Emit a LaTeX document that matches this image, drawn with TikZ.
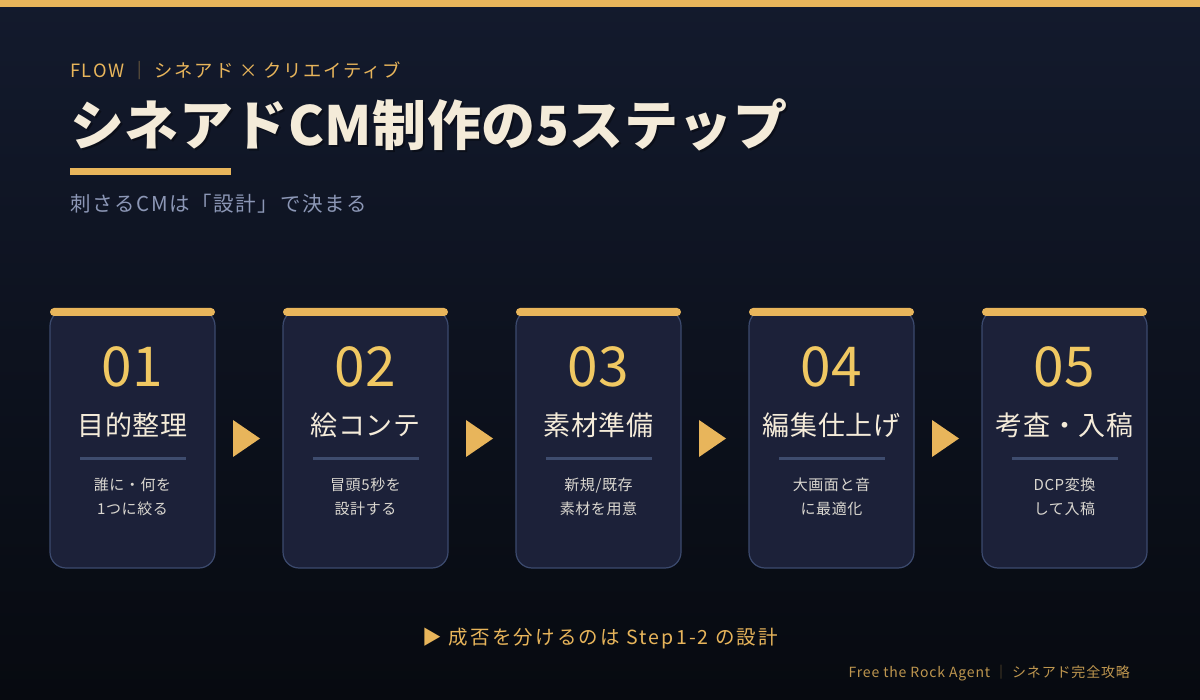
\documentclass[tikz,border=0pt]{standalone}
\usepackage{fontspec}
\setmainfont{Noto Sans CJK JP}
\definecolor{gold}{HTML}{E8B55B}
\definecolor{numgold}{HTML}{F0C862}
\definecolor{cream}{HTML}{F4EBD9}
\definecolor{cardfill}{HTML}{1C2139}
\definecolor{cardline}{HTML}{3C4A6E}
\definecolor{divider}{HTML}{3E4C6E}
\definecolor{desctext}{HTML}{DAD7D0}
\definecolor{subtext}{HTML}{8C97B6}
\definecolor{footgold}{HTML}{BE964F}
\definecolor{bgtop}{HTML}{131A2D}
\definecolor{bgbottom}{HTML}{070A10}

\begin{document}
\begin{tikzpicture}[
    x=1pt, y=-1pt,
    every node/.style={inner sep=0pt, outer sep=0pt},
    card/.style={draw=cardline, line width=1.2pt, fill=cardfill, rounded corners=16pt,
                 minimum width=165pt, minimum height=258pt},
    topbar/.style={fill=gold, rounded corners=4pt, minimum width=165pt, minimum height=8pt},
    num/.style={text=numgold, font=\fontsize{55}{55}\selectfont},
    steptitle/.style={text=cream, font=\fontsize{27}{27}\selectfont\addfontfeatures{LetterSpace=2}},
    rulebar/.style={fill=divider, minimum width=106pt, minimum height=3pt},
    desc/.style={text=desctext, align=center,
                 font=\fontsize{15}{24}\selectfont\addfontfeatures{LetterSpace=4}},
    nexttip/.style={fill=gold},
]
  % background
  \shade[top color=bgtop, bottom color=bgbottom] (0,0) rectangle (1200,700);
  \fill[gold] (0,0) rectangle (1200,7);

  % header
  \node [anchor=west, text=gold, font=\fontsize{18.3}{18.3}\selectfont\addfontfeatures{LetterSpace=10}]
        (kicker) at (70,71) {FLOW \textcolor{gold!55!bgtop}{｜} シネアド × クリエイティブ};
  \node [anchor=west, text=black, opacity=0.35, font=\fontsize{54}{54}\selectfont\bfseries\addfontfeatures{LetterSpace=1}]
        (titleshadow) at (72,127) {シネアドCM制作の5ステップ};
  \node [anchor=west, text=cream, font=\fontsize{54}{54}\selectfont\bfseries\addfontfeatures{LetterSpace=1}]
        (title) at (70,125) {シネアドCM制作の5ステップ};
  \node [anchor=north west, fill=gold, minimum width=161pt, minimum height=7pt]
        (uline) at (70,168) {};
  \node [anchor=west, text=subtext, font=\fontsize{20.5}{20.5}\selectfont\addfontfeatures{LetterSpace=8}]
        (subtitle) at (70,204) {刺さるCMは「設計」で決まる};

  % step 1
  \node [card]      (c1) at (132.5,439) {};
  \node [topbar]    (b1) at (132.5,312) {};
  \node [num]       (n1) at (132.5,367) {01};
  \node [steptitle] (t1) at (132.5,425) {目的整理};
  \node [rulebar]   (r1) at (132.5,459) {};
  \node [desc]      (d1) at (132.5,497) {誰に・何を\\1つに絞る};

  % step 2
  \node [card]      (c2) at (365.5,439) {};
  \node [topbar]    (b2) at (365.5,312) {};
  \node [num]       (n2) at (365.5,367) {02};
  \node [steptitle] (t2) at (365.5,425) {絵コンテ};
  \node [rulebar]   (r2) at (365.5,459) {};
  \node [desc]      (d2) at (365.5,497) {冒頭5秒を\\設計する};

  % step 3
  \node [card]      (c3) at (598.5,439) {};
  \node [topbar]    (b3) at (598.5,312) {};
  \node [num]       (n3) at (598.5,367) {03};
  \node [steptitle] (t3) at (598.5,425) {素材準備};
  \node [rulebar]   (r3) at (598.5,459) {};
  \node [desc]      (d3) at (598.5,497) {新規/既存\\素材を用意};

  % step 4
  \node [card]      (c4) at (831.5,439) {};
  \node [topbar]    (b4) at (831.5,312) {};
  \node [num]       (n4) at (831.5,367) {04};
  \node [steptitle] (t4) at (831.5,425) {編集仕上げ};
  \node [rulebar]   (r4) at (831.5,459) {};
  \node [desc]      (d4) at (831.5,497) {大画面と音\\に最適化};

  % step 5
  \node [card]      (c5) at (1064.5,439) {};
  \node [topbar]    (b5) at (1064.5,312) {};
  \node [num]       (n5) at (1064.5,367) {05};
  \node [steptitle] (t5) at (1064.5,425) {考査・入稿};
  \node [rulebar]   (r5) at (1064.5,459) {};
  \node [desc]      (d5) at (1064.5,497) {DCP変換\\して入稿};

  % arrows between the cards
  \coordinate (a1) at (233,420);
  \coordinate (a2) at (466,420);
  \coordinate (a3) at (699,420);
  \coordinate (a4) at (932,420);
  \fill [nexttip] (a1) -- ++(27,18.5) -- ++(-27,18.5) -- cycle;
  \fill [nexttip] (a2) -- ++(27,18.5) -- ++(-27,18.5) -- cycle;
  \fill [nexttip] (a3) -- ++(27,18.5) -- ++(-27,18.5) -- cycle;
  \fill [nexttip] (a4) -- ++(27,18.5) -- ++(-27,18.5) -- cycle;

  % footer
  \node [text=gold, font=\fontsize{19.5}{19.5}\selectfont\addfontfeatures{LetterSpace=11}]
        (note) at (600.5,638) {▶ 成否を分けるのは Step1-2 の設計};
  \node [anchor=east, text=footgold, font=\fontsize{14}{14}\selectfont\addfontfeatures{LetterSpace=6}]
        (credit) at (1130,673) {Free the Rock Agent \textcolor{footgold!55!bgbottom}{｜} シネアド完全攻略};
\end{tikzpicture}
\end{document}
